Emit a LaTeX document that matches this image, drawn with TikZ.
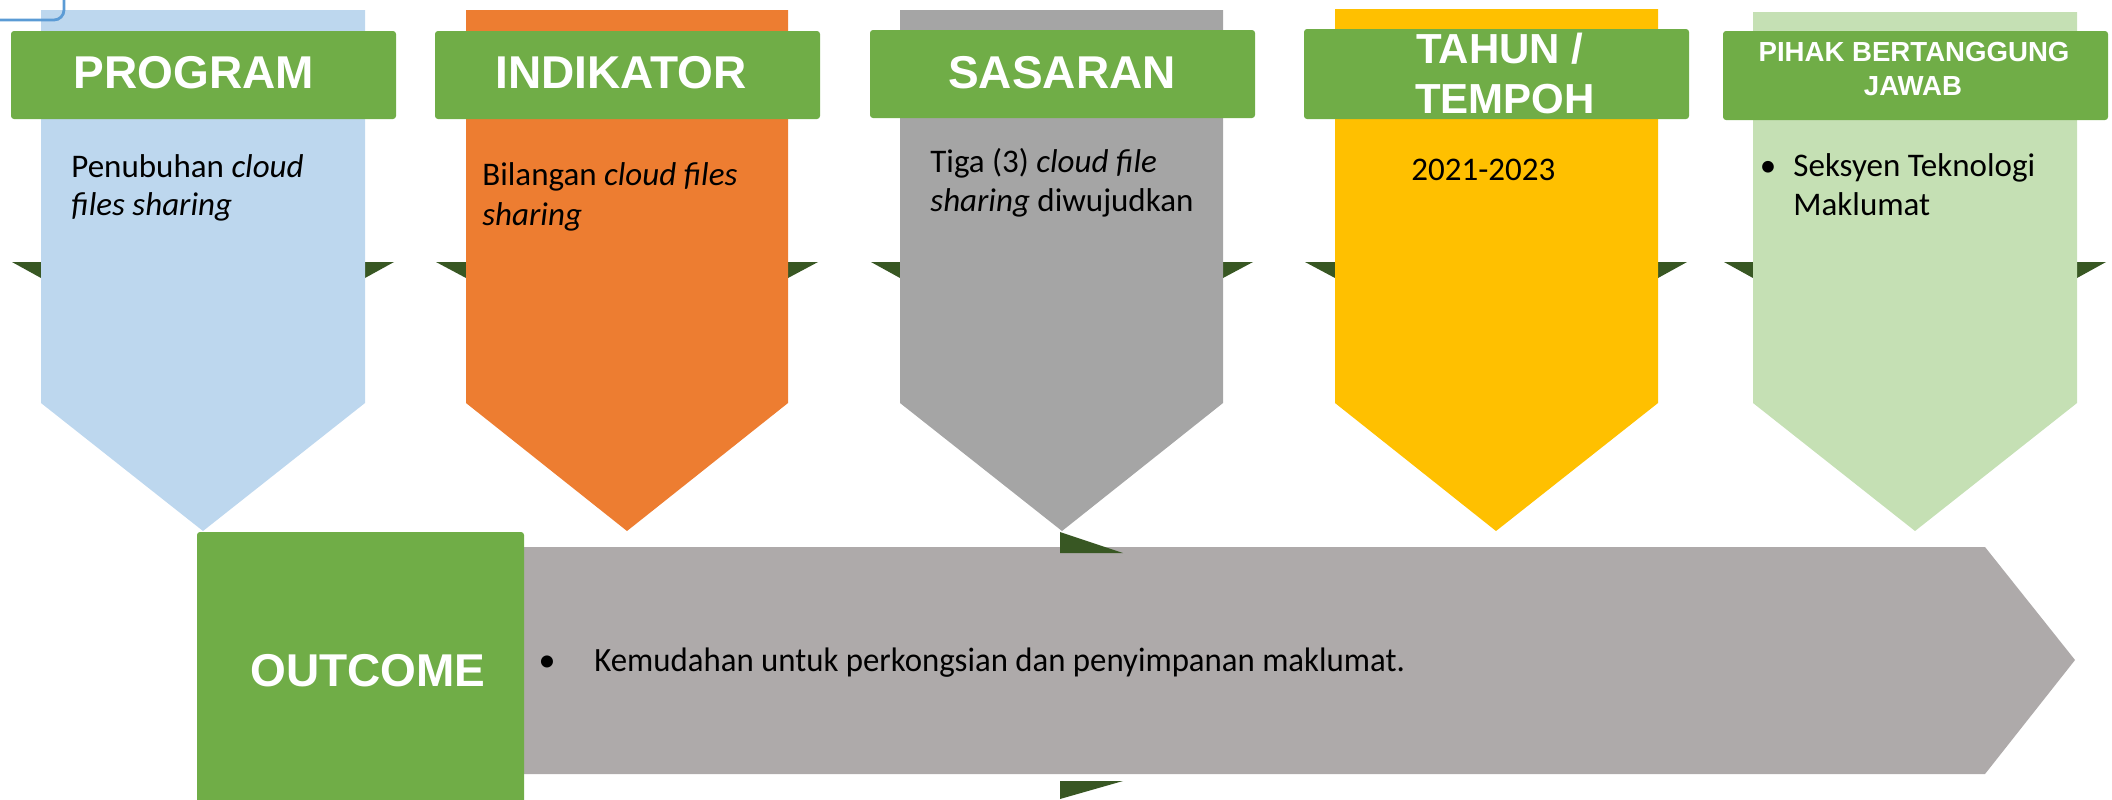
\documentclass[tikz,border=0pt]{standalone}
\usepackage{fontspec}
\setmainfont{Carlito}
\newfontfamily\headfont{Liberation Sans}

\definecolor{progblue}{HTML}{BDD7EE}
\definecolor{indorange}{HTML}{ED7D31}
\definecolor{sasgray}{HTML}{A5A5A5}
\definecolor{tahyellow}{HTML}{FFC000}
\definecolor{pihgreen}{HTML}{C5E0B4}
\definecolor{bangreen}{HTML}{70AD47}
\definecolor{folddark}{HTML}{385723}
\definecolor{outgray}{HTML}{AEAAAA}
\definecolor{strayblue}{HTML}{5B9BD5}

\tikzset{
  banner/.style={fill=bangreen, rounded corners=1.5pt},
  fold/.style={fill=folddark},
  headtxt/.style={font=\headfont\bfseries\fontsize{23}{25}\selectfont, text=white, anchor=base, inner sep=0pt},
  bodytxt/.style={font=\fontsize{16.5}{19.5}\selectfont, anchor=base west, inner sep=0pt},
}

\begin{document}
\begin{tikzpicture}[x=0.5pt, y=-0.5pt]
\useasboundingbox (0,0) rectangle (2112,799);
\fill[fold] (12,262) -- (41,262) -- (41,278) -- cycle ; % Fold.P1
\fill[fold] (365,262) -- (394,262) -- (365,278) -- cycle ; % Fold.P2
\fill[fold] (436,262) -- (466,262) -- (466,278) -- cycle ; % Fold.I1
\fill[fold] (788,262) -- (818,262) -- (788,278) -- cycle ; % Fold.I2
\fill[fold] (871,262) -- (900,262) -- (900,278) -- cycle ; % Fold.S1
\fill[fold] (1223,262) -- (1253,262) -- (1223,278) -- cycle ; % Fold.S2
\fill[fold] (1305,262) -- (1335,262) -- (1335,278) -- cycle ; % Fold.T1
\fill[fold] (1658,262) -- (1687,262) -- (1658,278) -- cycle ; % Fold.T2
\fill[fold] (1724,262) -- (1753,262) -- (1753,278) -- cycle ; % Fold.J1
\fill[fold] (2077,262) -- (2106,262) -- (2077,278) -- cycle ; % Fold.J2
\fill[progblue] (41,10) -- (365,10) -- (365,403) -- (203,531) -- (41,403) -- cycle ; % Column.0
\fill[indorange] (466,10) -- (788,10) -- (788,403) -- (627,531) -- (466,403) -- cycle ; % Column.1
\fill[sasgray] (900,10) -- (1223,10) -- (1223,403) -- (1062,531) -- (900,403) -- cycle ; % Column.2
\fill[tahyellow] (1335,9) -- (1658,9) -- (1658,403) -- (1496,531) -- (1335,403) -- cycle ; % Column.3
\fill[pihgreen] (1753,12) -- (2077,12) -- (2077,403) -- (1915,531) -- (1753,403) -- cycle ; % Column.4
\draw[strayblue, line width=1.4pt, rounded corners=5pt] (-30,-30) rectangle (64,20) ; % Stray.0
\fill[banner] (11,31) rectangle (396,119) ; % Banner.0
\fill[banner] (435,31) rectangle (820,119) ; % Banner.1
\fill[banner] (870,30) rectangle (1255,118) ; % Banner.2
\fill[banner] (1304,29) rectangle (1689,119) ; % Banner.3
\fill[banner] (1723,31) rectangle (2108,120) ; % Banner.4
\node[headtxt] (hprog) at (194,88) {PROGRAM};
\node[headtxt] (hind) at (621,88) {INDIKATOR};
\node[headtxt] (hsas) at (1062,88) {SASARAN};
\node[headtxt, font=\headfont\bfseries\fontsize{21}{25}\selectfont] (htah1) at (1500,63) {TAHUN /};
\node[headtxt, font=\headfont\bfseries\fontsize{21}{25}\selectfont] (htah2) at (1505,113) {TEMPOH};
\node[headtxt, font=\headfont\bfseries\fontsize{13.8}{17}\selectfont] (hpih1) at (1914,61) {PIHAK BERTANGGUNG};
\node[headtxt, font=\headfont\bfseries\fontsize{13.8}{17}\selectfont] (hpih2) at (1913,95) {JAWAB};
\node[bodytxt] (prog1) at (71,177) {Penubuhan \textit{cloud}};
\node[bodytxt] (prog2) at (71,215) {\textit{files sharing}};
\node[bodytxt] (ind1) at (482,185) {Bilangan \textit{cloud files}};
\node[bodytxt] (ind2) at (482,225) {\textit{sharing}};
\node[bodytxt] (sas1) at (930,172) {Tiga (3) \textit{cloud file}};
\node[bodytxt] (sas2) at (930,211) {\textit{sharing} diwujudkan};
\node[bodytxt] (tah1) at (1411,180) {2021-2023};
\node[bodytxt, anchor=base] (pihdot) at (1768,176) {•};
\node[bodytxt] (pih1) at (1793,176) {Seksyen Teknologi};
\node[bodytxt] (pih2) at (1793,215) {Maklumat};
\fill[outgray] (480,547) -- (1985,547) -- (2075,660) -- (1985,774) -- (480,774) -- cycle ; % Outcome.arrow
\fill[fold] (1060,532) -- (1060,553) -- (1123,553) -- cycle ; % Fold.O1
\fill[fold] (1060,781) -- (1123,781) -- (1060,799) -- cycle ; % Fold.O2
\fill[banner] (197,532) rectangle (524,810) ; % Outcome.box
\node[headtxt] (hout) at (368,686) {OUTCOME};
\node[bodytxt, anchor=base, font=\fontsize{17}{20}\selectfont] (outdot) at (547,671) {•};
\node[bodytxt, font=\fontsize{17}{20}\selectfont] (out1) at (594,671) {\scalebox{0.965}[1]{Kemudahan untuk perkongsian dan penyimpanan maklumat.}};
\end{tikzpicture}
\end{document}
